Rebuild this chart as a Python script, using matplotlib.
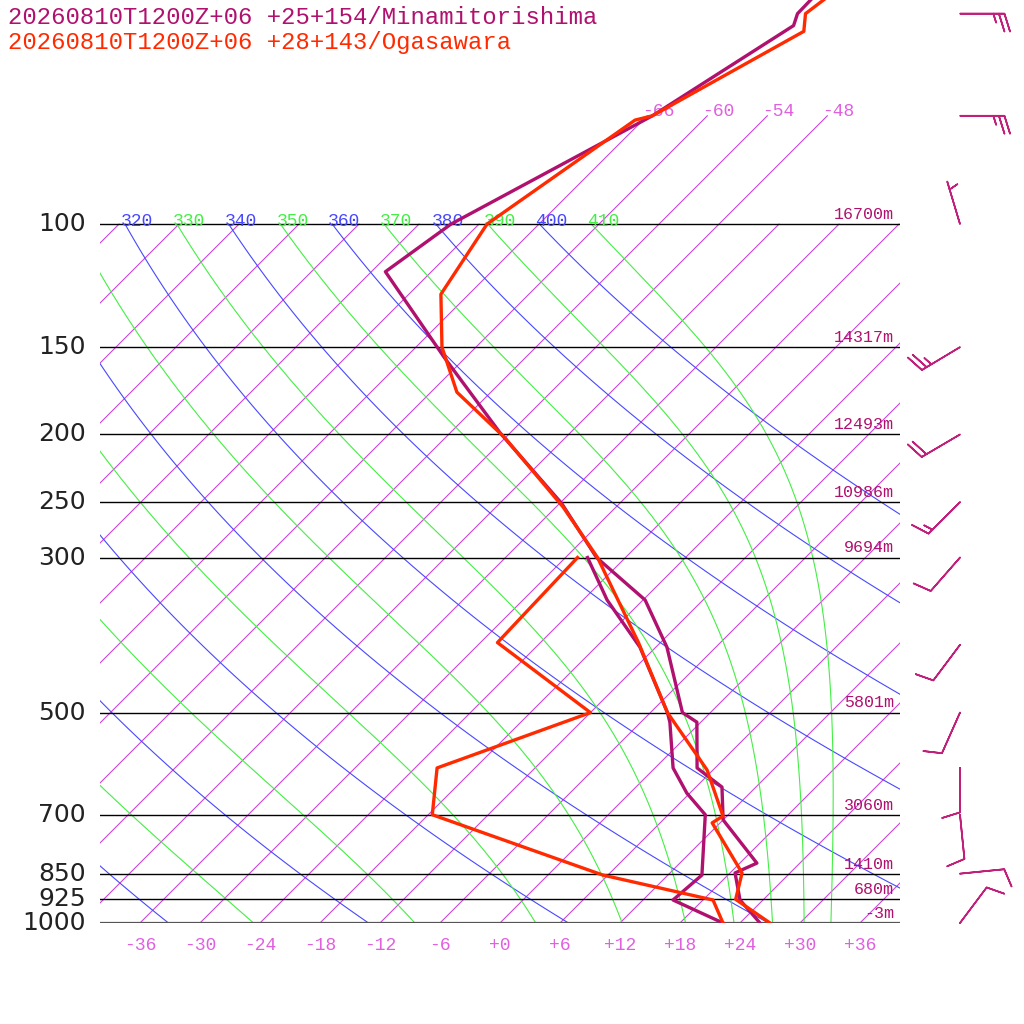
import numpy as np
import matplotlib
matplotlib.use("Agg")
import matplotlib.pyplot as plt

# ---- data ----
title1 = "20260810T1200Z+06 +25+154/Minamitorishima"
title2 = "20260810T1200Z+06 +28+143/Ogasawara"

# Minamitorishima temperature / dew point (hPa, degC)
mina_p = [1000, 927, 848, 821, 712, 639, 600, 516, 500, 403, 345, 300, 251, 199, 155, 117, 100, 70, 52, 50, 46]
mina_t = [26.0, 21.7, 18.5, 19.7, 12.0, 8.6, 4.2, -0.4, -2.8, -10.9, -17.8, -26.9, -35.8, -49.0, -62.2, -76.6, -74.8, -65.5, -60.4, -61.2, -61.3]
mina_td_p = [1000, 927, 854, 700, 652, 600, 516, 500, 403, 345, 300]
mina_td = [22.3, 15.0, 15.4, 9.7, 5.7, 1.8, -3.1, -4.3, -13.6, -21.6, -27.8]

# Ogasawara
oga_p = [1000, 925, 848, 719, 703, 604, 500, 397, 300, 254, 202, 174, 150, 126, 100, 71, 70, 53, 50, 46]
oga_t = [27.0, 21.2, 19.2, 11.2, 11.6, 5.4, -4.3, -14.2, -26.8, -35.3, -48.1, -57.4, -63.4, -68.8, -71.2, -66.8, -65.5, -58.8, -60.4, -59.6]
oga_td_p = [1000, 927, 854, 700, 600, 500, 397, 300]
oga_td = [22.3, 19.0, 5.5, -17.6, -21.8, -12.0, -28.3, -28.8]

# standard levels and heights
levels = [1000, 925, 850, 700, 500, 300, 250, 200, 150, 100]
heights = ["-3m", "680m", "1410m", "3060m", "5801m", "9694m", "10986m", "12493m", "14317m", "16700m"]

# winds (hPa, u, v in kt)
wind_p = [50, 70, 100, 150, 200, 250, 300, 400, 500, 600, 700, 850, 1000]
wind_u = [-25, -25, 1.5, 20, 17, 12, 7, 6, 4, 0, -1, -10, -6]
wind_v = [0, 0, -5, 12, 10, 12, 8, 8, 9, 10, 10, -1, -8]

# ---- chart setup ----
SKEW = 30.36          # x shift (deg) per unit ln(1000/p)
PTOP = 47.8
C_MINA = "#b0106e"
C_OGA = "#ff2a00"
C_ISO = "#cc44dd"
C_ISOLAB = "#e060e0"
C_DRY = "#4848ff"
C_MOIST = "#44ee44"


def skx(t, p):
    return np.asarray(t) + SKEW * np.log(1000.0 / np.asarray(p, dtype=float))


fig = plt.figure(figsize=(10.24, 10.24), dpi=100)
ax = fig.add_axes([100 / 1024, 101 / 1024, 800 / 1024, 923 / 1024])
ax.set_yscale("log")
ax.set_xlim(-40, 40)
ax.set_ylim(1000, PTOP)
ax.axis("off")

mono = "Liberation Mono"

# isotherms
for t in range(-108, 37, 6):
    ptop = 70 if -66 <= t <= -48 else 100
    pp = np.array([1000.0, ptop])
    ax.plot(skx([t, t], pp), pp, color=C_ISO, lw=0.8, zorder=1)
    if ptop == 70:
        ax.text(skx(t, 70) - 0.5, 71, "%d" % t, color=C_ISOLAB, fontsize=13,
                family=mono, ha="left", va="bottom")
for t in range(-36, 37, 6):
    lab = "%+d" % t if t != 0 else "+0"
    ax.text(t, 1000 * np.exp(0.045), lab, color=C_ISOLAB, fontsize=13,
            family=mono, ha="center", va="top", clip_on=False)

# dry adiabats
pp = np.exp(np.linspace(np.log(1000), np.log(100), 120))
for th in range(240, 401, 20):
    tt = th * (pp / 1000) ** 0.2857 - 273.15
    ax.plot(skx(tt, pp), pp, color=C_DRY, lw=0.8, zorder=1)
    ax.text(skx(tt[-1], 100) - 0.4, 102, str(th), color=C_DRY, fontsize=13,
            family=mono, ha="left", va="bottom", clip_on=True)


# moist (pseudo) adiabats integrated down from 100 hPa
def moist(th):
    Rd, cp, L, eps = 287.0, 1005.0, 2.5e6, 0.622
    lp = np.linspace(np.log(100), np.log(1000), 400)
    T = th * 0.1 ** 0.2857
    out = [T]
    for i in range(1, len(lp)):
        p = np.exp(lp[i - 1])
        es = 6.112 * np.exp(17.67 * (T - 273.15) / (T - 29.65))
        rs = eps * es / (p - es)
        dTdlnp = (Rd * T + L * rs) / (cp + L * L * rs * eps / (Rd * T * T))
        T = T + dTdlnp * (lp[i] - lp[i - 1])
        out.append(T)
    return np.exp(lp), np.array(out) - 273.15


for th in range(230, 411, 20):
    mp, mt = moist(th)
    ax.plot(skx(mt, mp), mp, color=C_MOIST, lw=0.8, zorder=1)
    ax.text(skx(mt[0], 100) - 0.4, 102, str(th), color=C_MOIST, fontsize=13,
            family=mono, ha="left", va="bottom", clip_on=True)

# pressure lines and labels
for p, h in zip(levels, heights):
    c, w = ("#555555", 1.6) if p == 1000 else ("black", 1.0)
    ax.plot([-40, 40], [p, p], color=c, lw=w, zorder=2)
    ax.text(-41.4, p, str(p), fontsize=18, ha="right", va="center",
            color="#222222", clip_on=False)
    ax.text(39.4, p * 0.993, h, fontsize=12, family=mono, ha="right",
            va="bottom", color=C_MINA)

# profiles
ax.plot(skx(mina_t, mina_p), mina_p, color=C_MINA, lw=2.4, zorder=5)
ax.plot(skx(mina_td, mina_td_p), mina_td_p, color=C_MINA, lw=2.4, zorder=5)
ax.plot(skx(oga_t, oga_p), oga_p, color=C_OGA, lw=2.4, zorder=6)
ax.plot(skx(oga_td, oga_td_p), oga_td_p, color=C_OGA, lw=2.4, zorder=6)

# wind barbs
ax.barbs(np.full(len(wind_p), 46.0), wind_p, wind_u, wind_v, length=8,
         color="#c0207a", linewidth=1.2, clip_on=False)

fig.text(8 / 1024, 1 - 18 / 1024, title1, color=C_MINA, fontsize=17.2,
         family=mono, va="center")
fig.text(8 / 1024, 1 - 42 / 1024, title2, color=C_OGA, fontsize=17.2,
         family=mono, va="center")

fig.savefig("out.png", dpi=100, facecolor="white")
